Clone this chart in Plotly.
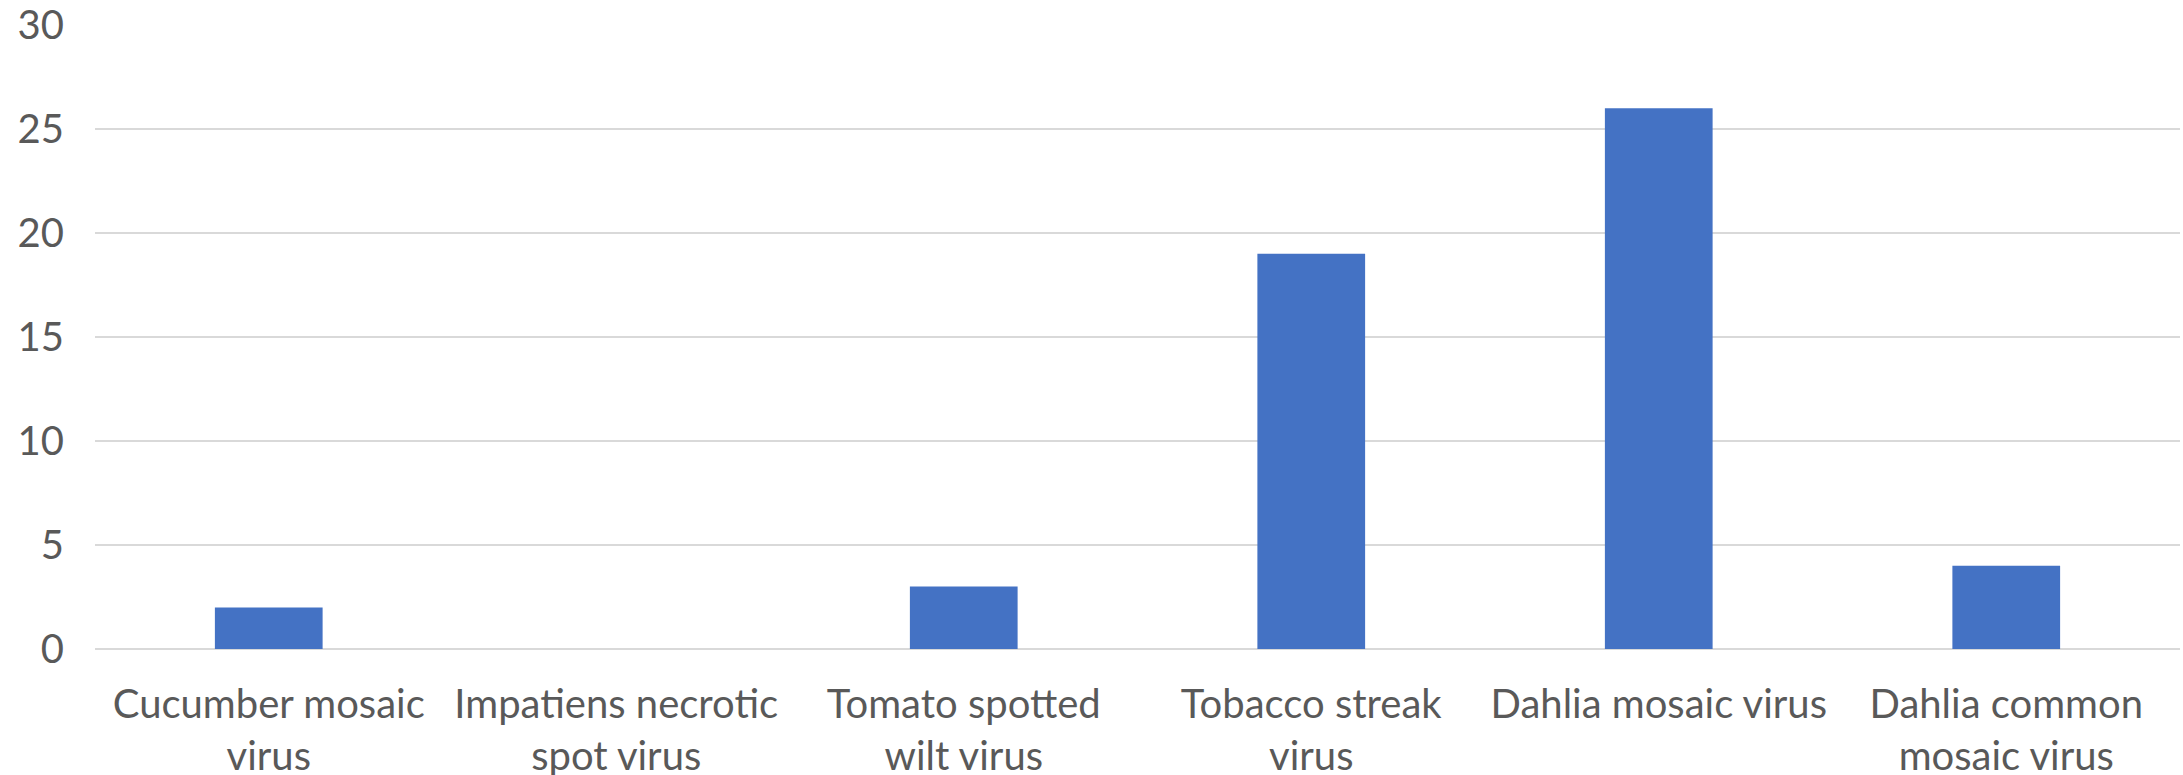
import plotly.graph_objects as go

categories = [
    "Cucumber mosaic<br>virus",
    "Impatiens necrotic<br>spot virus",
    "Tomato spotted<br>wilt virus",
    "Tobacco streak<br>virus",
    "Dahlia mosaic virus",
    "Dahlia common<br>mosaic virus",
]
values = [2, 0, 3, 19, 26, 4]
y_ticks = [0, 5, 10, 15, 20, 25, 30]

fig = go.Figure(go.Bar(x=categories, y=values, marker=dict(color="#4472C4", line=dict(width=0))))

font = dict(family="Lato, Carlito, Calibri, sans-serif", size=40, color="#595959")

fig.update_layout(
    width=2183, height=775,
    margin=dict(l=95, r=3, t=25, b=126),
    paper_bgcolor="white", plot_bgcolor="white",
    bargap=0.69,
    font=font,
    showlegend=False,
)
fig.update_xaxes(showgrid=False, showline=False, ticks="", tickfont=font, ticklabelstandoff=28,
                 automargin=False)
fig.update_yaxes(range=[0, 30], tickvals=y_ticks, showgrid=True, gridcolor="#D9D9D9", gridwidth=2,
                 zeroline=True, zerolinecolor="#D9D9D9", zerolinewidth=2, showline=False,
                 ticks="", tickfont=font, ticklabelstandoff=30, automargin=False)

fig.write_html("out.html")
